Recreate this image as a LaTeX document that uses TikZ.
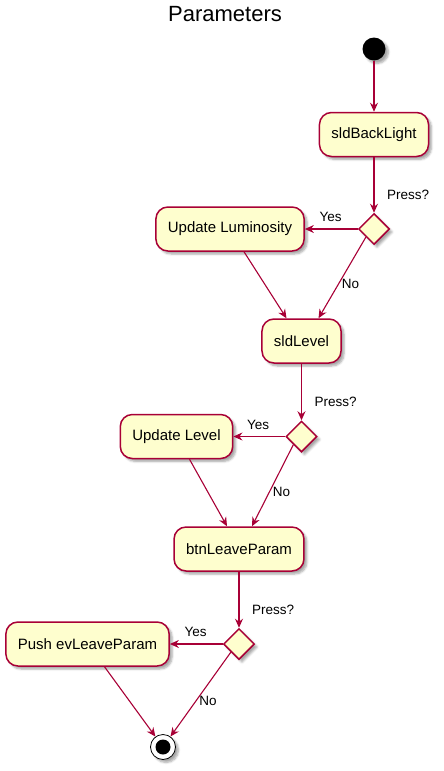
\documentclass[tikz,border=0pt]{standalone}
\usepackage{fontspec}
\setmainfont{Liberation Sans}
\usetikzlibrary{arrows.meta,positioning,shapes.geometric,shadows.blur}
\definecolor{umlRed}{HTML}{A80036}
\definecolor{umlCream}{HTML}{FEFECE}
\tikzset{
  >={Stealth[length=9pt,width=8pt,inset=3pt]},
  shade/.style={blur shadow={shadow xshift=3pt, shadow yshift=-3pt,
              shadow blur steps=5, shadow opacity=35}},
  act/.style={rounded corners=12pt, draw=umlRed, fill=umlCream, line width=1.5pt,
              minimum height=44pt, inner xsep=12pt, shade,
              font=\fontsize{15}{18}\selectfont},
  choice/.style={diamond, draw=umlRed, fill=umlCream, line width=1.5pt,
              minimum size=31pt, inner sep=0pt, shade},
  startnode/.style={circle, fill=black, minimum size=23pt, inner sep=0pt, shade},
  stopnode/.style={circle, draw=black, fill=white, line width=0.8pt,
              minimum size=25pt, inner sep=0pt, shade},
  lbl/.style={font=\fontsize{13.5}{16}\selectfont, inner sep=3pt},
  ttl/.style={font=\fontsize{22}{26}\selectfont},
  flow/.style={->, draw=umlRed, line width=1.1pt},
}

\begin{document}
\begin{tikzpicture}[x=1pt,y=-1pt]
  \useasboundingbox (0,0) rectangle (444,771);
  \node[ttl] (title) at (225,14) {Parameters};
  % start and first slider
  \node[startnode] (start) at (374,49) {};
  \node[act] (bl) at (374,134.5) {sldBackLight};
  \node[choice] (d1) at (374,229) {};
  \node[act] (lum) at (230,229) {Update Luminosity};
  \draw[flow] (start) -- (bl);
  \draw[flow] (bl) -- (d1);
  \node[lbl,anchor=west] at ([xshift=10pt,yshift=18pt]d1.north) {Press?};
  \draw[flow] (d1.west) -- (lum.east);
  \node[lbl,anchor=east] at ([xshift=-13pt,yshift=12pt]d1.west) {Yes};
  % level slider
  \node[act] (lvl) at (301.5,341) {sldLevel};
  \draw[flow] ([xshift=14pt]lum.south) -- ([xshift=-15pt]lvl.north);
  \draw[flow] (d1.south west) -- node[lbl,pos=0.58,right] {No} ([xshift=17pt]lvl.north);
  \node[choice] (d2) at (301.5,436.5) {};
  \node[act] (ulvl) at (176.5,436.5) {Update Level};
  \draw[flow] (lvl) -- (d2);
  \node[lbl,anchor=west] at ([xshift=10pt,yshift=18pt]d2.north) {Press?};
  \draw[flow] (d2.west) -- (ulvl.east);
  \node[lbl,anchor=east] at ([xshift=-13pt,yshift=12pt]d2.west) {Yes};
  % leave button
  \node[act] (btn) at (239,549) {btnLeaveParam};
  \draw[flow] ([xshift=13pt]ulvl.south) -- ([xshift=-12pt]btn.north);
  \draw[flow] (d2.south west) -- node[lbl,pos=0.58,right] {No} ([xshift=13pt]btn.north);
  \node[choice] (d3) at (239,644) {};
  \node[act] (push) at (87.5,644) {Push evLeaveParam};
  \draw[flow] (btn) -- (d3);
  \node[lbl,anchor=west] at ([xshift=10pt,yshift=18pt]d3.north) {Press?};
  \draw[flow] (d3.west) -- (push.east);
  \node[lbl,anchor=east] at ([xshift=-13pt,yshift=12pt]d3.west) {Yes};
  % end
  \node[stopnode] (stop) at (163,747) {};
  \fill[black] (stop.center) circle (7.5pt);
  \draw[flow] ([xshift=17pt]push.south) -- (stop);
  \draw[flow] (d3.south west) -- node[lbl,pos=0.58,right] {No} (stop);
\end{tikzpicture}
\end{document}
